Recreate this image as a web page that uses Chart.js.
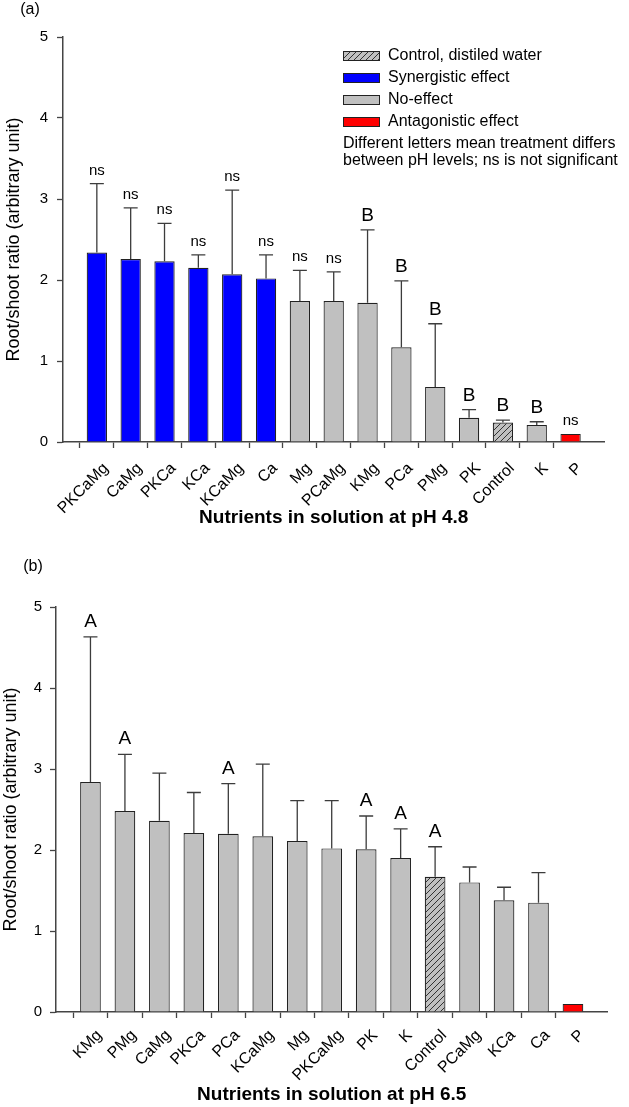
<!DOCTYPE html>
<html>
<head>
<meta charset="utf-8">
<script src="https://cdn.jsdelivr.net/npm/chart.js@4.4.1/dist/chart.umd.min.js"></script>
<style>
  body { margin: 0; background: #fff; }
  .wrap { position: absolute; left: 0; width: 629px; }
  #wrapA { top: 0; height: 540px; }
  #wrapB { top: 540px; height: 567px; }
</style>
</head>
<body>
<div class="wrap" id="wrapA"><canvas id="chartA"></canvas></div>
<div class="wrap" id="wrapB"><canvas id="chartB"></canvas></div>
<script>
// panel (a), pH 4.8
const labelsA  = ['PKCaMg', 'CaMg', 'PKCa', 'KCa', 'KCaMg', 'Ca', 'Mg', 'PCaMg', 'KMg', 'PCa', 'PMg', 'PK', 'Control', 'K', 'P'];
const valuesA  = [2.34, 2.26, 2.23, 2.15, 2.07, 2.02, 1.74, 1.74, 1.72, 1.17, 0.68, 0.30, 0.24, 0.21, 0.10];
const sdA      = [0.85, 0.63, 0.47, 0.16, 1.04, 0.29, 0.38, 0.36, 0.90, 0.82, 0.78, 0.10, 0.03, 0.04, 0];
const lettersA = ['ns', 'ns', 'ns', 'ns', 'ns', 'ns', 'ns', 'ns', 'B', 'B', 'B', 'B', 'B', 'B', 'ns'];
const effectA  = ['syn', 'syn', 'syn', 'syn', 'syn', 'syn', 'none', 'none', 'none', 'none', 'none', 'none', 'control', 'none', 'ant'];

// panel (b), pH 6.5
const labelsB  = ['KMg', 'PMg', 'CaMg', 'PKCa', 'PCa', 'KCaMg', 'Mg', 'PKCaMg', 'PK', 'K', 'Control', 'PCaMg', 'KCa', 'Ca', 'P'];
const valuesB  = [2.84, 2.48, 2.36, 2.21, 2.20, 2.17, 2.11, 2.02, 2.01, 1.90, 1.67, 1.60, 1.38, 1.35, 0.10];
const sdB      = [1.79, 0.70, 0.59, 0.50, 0.62, 0.89, 0.50, 0.59, 0.41, 0.36, 0.37, 0.19, 0.16, 0.37, 0];
const lettersB = ['A', 'A', '', '', 'A', '', '', '', 'A', 'A', 'A', '', '', '', ''];
const effectB  = ['none', 'none', 'none', 'none', 'none', 'none', 'none', 'none', 'none', 'none', 'control', 'none', 'none', 'none', 'ant'];

const FONT = "'Liberation Sans', Arial, sans-serif";
Chart.defaults.font.family = FONT;
Chart.defaults.color = '#000';

// diagonal hatch for the control bar
function makeHatch() {
  const c = document.createElement('canvas');
  c.width = 6; c.height = 6;
  const g = c.getContext('2d');
  g.fillStyle = '#c0c0c0';
  g.fillRect(0, 0, 6, 6);
  g.strokeStyle = '#333';
  g.lineWidth = 1;
  g.beginPath();
  g.moveTo(0, 6); g.lineTo(6, 0);
  g.moveTo(-1, 1); g.lineTo(1, -1);
  g.moveTo(5, 7); g.lineTo(7, 5);
  g.stroke();
  return g.createPattern(c, 'repeat');
}
const hatch = makeHatch();

const fills = { syn: '#0000ff', none: '#c0c0c0', control: hatch, ant: '#ff0000' };

// pad with an empty slot at each end so the axis runs one bar gap past the outer bars
const pad = arr => [null, ...arr, null];

const errorBars = {
  id: 'errorBars',
  afterDatasetsDraw(chart, args, opts) {
    const { ctx } = chart;
    const y = chart.scales.y;
    const meta = chart.getDatasetMeta(0);
    const data = chart.data.datasets[0].data;
    ctx.save();
    meta.data.forEach((bar, i) => {
      const v = data[i];
      if (v == null) return;
      let top = bar.y;
      const sd = opts.sd[i];
      if (sd > 0) {
        const yTop = y.getPixelForValue(v + sd);
        ctx.strokeStyle = '#3c3c3c';
        ctx.lineWidth = 1.3;
        ctx.beginPath();
        ctx.moveTo(bar.x, bar.y);
        ctx.lineTo(bar.x, yTop);
        ctx.moveTo(bar.x - 7, yTop);
        ctx.lineTo(bar.x + 7, yTop);
        ctx.stroke();
        top = yTop;
      }
      const t = opts.letters[i];
      if (t) {
        ctx.fillStyle = '#000';
        ctx.textAlign = 'center';
        ctx.textBaseline = 'alphabetic';
        ctx.font = (t === 'ns' ? '15px ' : '19px ') + FONT;
        ctx.fillText(t, bar.x, top - opts.gap);
      }
    });
    ctx.restore();
  }
};

const panelLabel = {
  id: 'panelLabel',
  afterDraw(chart, args, opts) {
    const { ctx } = chart;
    ctx.save();
    ctx.fillStyle = '#000';
    ctx.font = '16px ' + FONT;
    ctx.textAlign = 'center';
    ctx.textBaseline = 'middle';
    ctx.fillText(opts.text, opts.x, opts.y);
    if (opts.legend) {
      const rows = [
        ['Control, distiled water', hatch, 56],
        ['Synergistic effect', '#0000ff', 78],
        ['No-effect', '#c0c0c0', 100],
        ['Antagonistic effect', '#ff0000', 122]
      ];
      ctx.textAlign = 'left';
      rows.forEach(([txt, fill, ry]) => {
        ctx.fillStyle = fill;
        ctx.fillRect(343, ry - 5, 37, 10);
        ctx.strokeStyle = '#222';
        ctx.lineWidth = 1;
        ctx.strokeRect(343.5, ry - 4.5, 36, 9);
        ctx.fillStyle = '#000';
        ctx.fillText(txt, 388, ry);
      });
      ctx.fillText('Different letters mean treatment differs', 343, 144);
      ctx.fillText('between pH levels; ns is not significant', 343, 161);
    }
    ctx.restore();
  }
};

function makeChart(id, cfg) {
  const n = cfg.labels.length + 2;
  return new Chart(document.getElementById(id), {
    type: 'bar',
    data: {
      labels: pad(cfg.labels).map(l => l || ''),
      datasets: [{
        data: pad(cfg.values),
        backgroundColor: pad(cfg.effect).map(e => e ? fills[e] : 'transparent'),
        borderColor: '#222',
        borderWidth: 1.2,
        barPercentage: 0.6,
        categoryPercentage: 1
      }]
    },
    options: {
      responsive: true,
      maintainAspectRatio: false,
      animation: false,
      layout: { padding: cfg.padding },
      plugins: {
        legend: { display: false },
        tooltip: { enabled: false },
        errorBars: { sd: pad(cfg.sd), letters: pad(cfg.letters), gap: cfg.gap },
        panelLabel: cfg.panel
      },
      scales: {
        x: {
          type: 'category',
          offset: false,
          grid: {
            drawOnChartArea: false,
            tickLength: 6,
            tickWidth: 1.3,
            tickColor: c => (c.index === 0 || c.index === n - 1) ? 'rgba(0,0,0,0)' : '#444'
          },
          border: { color: '#444', width: 1.5 },
          ticks: {
            autoSkip: false, minRotation: 45, maxRotation: 45,
            padding: cfg.xPad, labelOffset: 9, font: { size: 16 }
          },
          title: {
            display: true,
            text: cfg.xTitle,
            font: { size: 19, weight: 'bold' },
            padding: { top: 0, bottom: 0 }
          },
          afterFit: s => { s.height = cfg.xHeight; }
        },
        y: {
          min: 0,
          max: 5,
          grid: { drawOnChartArea: false, tickLength: 6, tickWidth: 1.3, tickColor: '#444' },
          border: { color: '#444', width: 1.5 },
          ticks: { stepSize: 1, padding: cfg.yPad, font: { size: 15 } },
          title: {
            display: true,
            text: 'Root/shoot ratio (arbitrary unit)',
            font: { size: 18 },
            padding: { top: cfg.yTitleTop, bottom: 0 }
          },
          afterFit: s => { s.width = cfg.yWidth; }
        }
      }
    },
    plugins: [errorBars, panelLabel]
  });
}

makeChart('chartA', {
  labels: labelsA, values: valuesA, sd: sdA, letters: lettersA, effect: effectA,
  xTitle: 'Nutrients in solution at pH 4.8',
  padding: { top: 37, bottom: 10.6, left: 2, right: 0 },
  xHeight: 87.4, xPad: 11, yWidth: 61, yPad: 9, yTitleTop: 1.7, gap: 9,
  panel: { text: '(a)', x: 30, y: 10, legend: true }
});

makeChart('chartB', {
  labels: labelsB, values: valuesB, sd: sdB, letters: lettersB, effect: effectB,
  xTitle: 'Nutrients in solution at pH 6.5',
  padding: { top: 67, bottom: 0.6, left: 0, right: 10 },
  xHeight: 94.4, xPad: 8, yWidth: 56, yPad: 8, yTitleTop: 0, gap: 10,
  panel: { text: '(b)', x: 33, y: 27, legend: false }
});
</script>
</body>
</html>
